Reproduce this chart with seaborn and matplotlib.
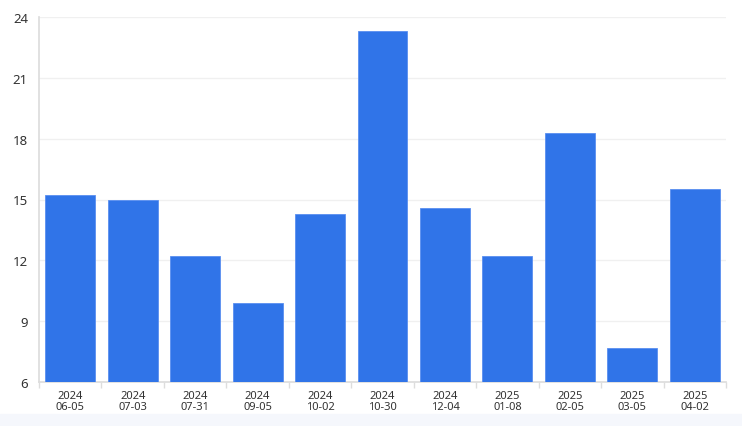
import matplotlib
matplotlib.use("Agg")
import matplotlib.pyplot as plt
import seaborn as sns
import pandas as pd

dates = ["2024\n06-05", "2024\n07-03", "2024\n07-31", "2024\n09-05", "2024\n10-02",
         "2024\n10-30", "2024\n12-04", "2025\n01-08", "2025\n02-05", "2025\n03-05",
         "2025\n04-02"]
values = [15.2, 15.0, 12.2, 9.9, 14.3, 23.3, 14.6, 12.2, 18.3, 7.7, 15.5]
yticks = [6, 9, 12, 15, 18, 21, 24]

df = pd.DataFrame({"date": dates, "value": values})

sns.set_theme(style="white")
plt.rcParams['font.family'] = ['Noto Sans', 'DejaVu Sans']

fig = plt.figure(figsize=(7.42, 4.27), dpi=100)
fig.patches.append(plt.Rectangle((0, 0), 1, 12/427, transform=fig.transFigure,
                                 color="#f5f7fc", zorder=0))
ax = fig.add_axes([39/742, 1 - 383/427, (726 - 39)/742, (383 - 18)/427])

sns.barplot(data=df, x="date", y="value", color="#3074e8", saturation=1,
            width=0.8, edgecolor="#5a8ff0", linewidth=0.6, ax=ax, zorder=3)

ax.set_ylim(6, 24)
ax.set_yticks(yticks)
ax.set_xlim(-0.5, len(dates) - 0.5)
ax.grid(axis="y", color="#f0f0f0", linewidth=1, zorder=0)
ax.set_axisbelow(True)
for s in ["top", "right"]:
    ax.spines[s].set_visible(False)
ax.spines["left"].set_color("#dddddd")
ax.spines["bottom"].set_color("#dddddd")
ax.set_xlabel("")
ax.set_ylabel("")
ax.tick_params(axis="y", labelsize=9.5, colors="#333333", length=0, pad=8)
ax.tick_params(axis="x", labelsize=8, colors="#333333", length=0, pad=6)
for lbl in ax.get_xticklabels():
    lbl.set_linespacing(0.95)
# small tick marks at band boundaries
ax.set_xticks([i - 0.5 for i in range(len(dates) + 1)], minor=True)
ax.tick_params(axis="x", which="minor", length=4, color="#dddddd", bottom=True)

fig.savefig("out.png", dpi=100)
